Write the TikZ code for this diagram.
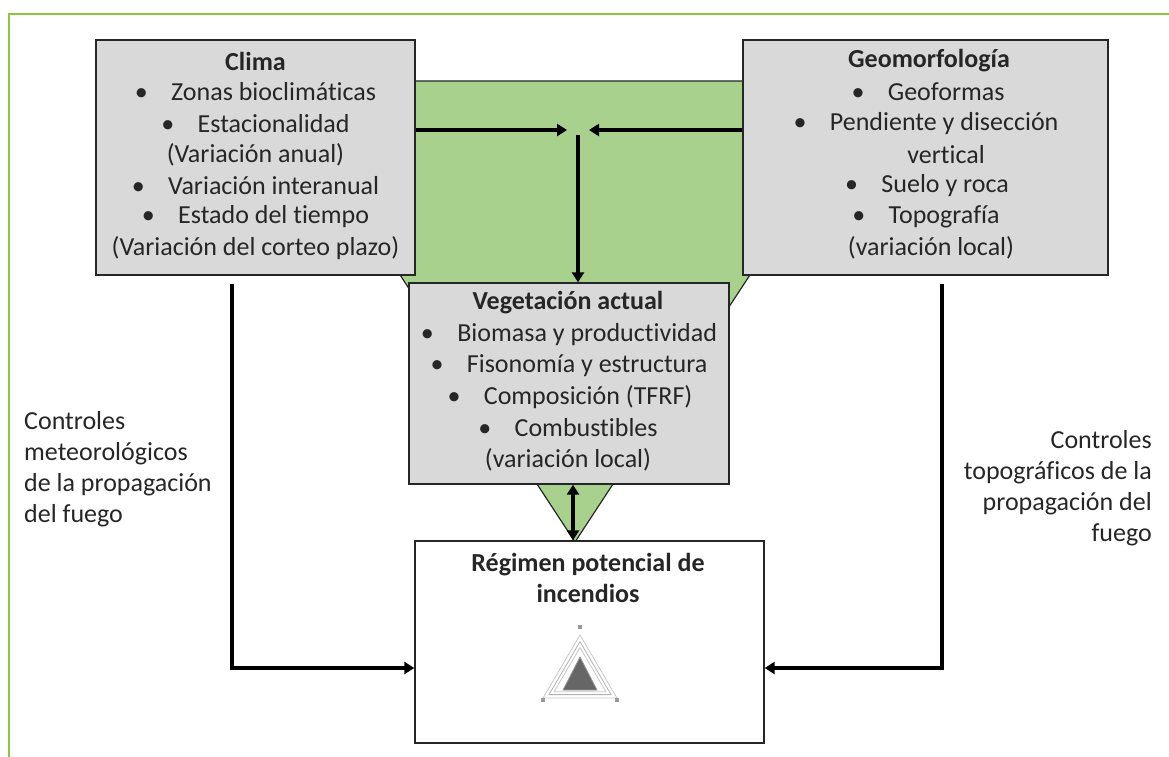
\documentclass[tikz,border=0pt]{standalone}
\usepackage{fontspec}
\setmainfont{Carlito}[Ligatures=NoCommon]
\usetikzlibrary{arrows.meta,calc}
\definecolor{frameg}{HTML}{8CC63F}
\definecolor{leafg}{HTML}{A9D18E}
\definecolor{boxg}{HTML}{D9D9D9}
\definecolor{txt}{HTML}{262626}
\begin{document}
\begin{tikzpicture}[x=1pt,y=-1pt,
  every node/.style={text=txt,font=\fontsize{26}{31}\selectfont},
  gbox/.style={draw=txt,line width=1.4pt,fill=boxg,inner sep=0pt},
  conn/.style={line width=3.6pt,-{Triangle[length=10pt,width=12pt]}}]
\useasboundingbox (0,0) rectangle (1169,757);
% frame
\draw[frameg,line width=2pt] (9,757) -- (9,14) -- (1169,14);
% green triangle
\filldraw[fill=leafg,draw=txt,line width=1.2pt] (273,81) -- (877,81) -- (575,542) -- cycle;
% boxes
\node[gbox,minimum width=319pt,minimum height=235pt] (clima) at (255.5,157.5) {};
\node[gbox,minimum width=365pt,minimum height=235pt] (geo) at (925.5,157.5) {};
\node[gbox,minimum width=320pt,minimum height=201pt] (veg) at (569,383.5) {};
\node[draw=txt,line width=1.4pt,fill=white,minimum width=349pt,minimum height=202pt,inner sep=0pt] (reg) at (589.5,642) {};
% texts
\def\b{\textbullet\hspace{0.9em}}
\node (c0) at (255.5,61) {\textbf{Clima}};
\node (c1) at (255.5,92) {\b Zonas bioclimáticas};
\node (c2) at (255.5,124) {\b Estacionalidad};
\node (c3) at (255.5,155) {(Variación anual)};
\node (c4) at (255.5,186) {\b Variación interanual};
\node (c5) at (255.5,217) {\b Estado del tiempo};
\node (c6) at (255.5,248) {(Variación del corteo plazo)};

\node (g0) at (929,61) {\textbf{Geomorfología}};
\node (g1) at (928,92) {\b Geoformas};
\node (g2) at (926,124) {\b Pendiente y disección};
\node (g3) at (946,155) {vertical};
\node (g4) at (927,186) {\b Suelo y roca};
\node (g5) at (926,217) {\b Topografía};
\node (g6) at (931,248) {(variación local)};

\node (v0) at (568,303) {\textbf{Vegetación actual}};
\node (v1) at (569,335) {\b Biomasa y productividad};
\node (v2) at (569,366) {\b Fisonomía y estructura};
\node (v3) at (570,397) {\b Composición (TFRF)};
\node (v4) at (568,428) {\b Combustibles};
\node (v5) at (568,460) {(variación local)};

\node[align=center] (r0) at (588,578) {\textbf{Régimen potencial de}\\\textbf{incendios}};

\node[align=left,anchor=north west,inner sep=0pt] (lt) at (24,411) {Controles\\meteorológicos\\de la propagación\\del fuego};
\node[align=right,anchor=north east,inner sep=0pt] (rt) at (1152,430) {Controles\\topográficos de la\\propagación del\\fuego};

% radar chart
\coordinate (rc) at (580,677);
\foreach \s/\c in {1/black!22,0.84/black!30,0.7/black!22}{
  \draw[\c,line width=0.8pt] ($(rc)+(0,-42*\s)$) -- ($(rc)+(-37*\s,21*\s)$) -- ($(rc)+(37*\s,21*\s)$) -- cycle;
}
\fill[black!60,draw=black!40,line width=0.8pt] (580,657) -- (563,690) -- (597,690) -- cycle;
\fill[black!40] (578,625) rectangle (582,629);
\fill[black!40] (541,698) rectangle (545,702);
\fill[black!40] (615,698) rectangle (619,702);

% connectors
\coordinate (jn) at (578,130);
\draw[conn] (clima.east |- jn) -- (567,130);
\draw[conn] (geo.west |- jn) -- (589,130);
\draw[conn] ($(jn)+(0,5)$) -- (veg.north -| jn);
\draw[line width=3.6pt,{Triangle[length=10pt,width=12pt]}-{Triangle[length=10pt,width=12pt]}] (veg.south -| 573,0) -- (reg.north -| 573,0);
\draw[conn] (clima.south -| 232,0) ++(0,8) |- (reg.west |- 0,668);
\draw[conn] (geo.south -| 942,0) ++(0,8) |- (reg.east |- 0,668);
\end{tikzpicture}
\end{document}
